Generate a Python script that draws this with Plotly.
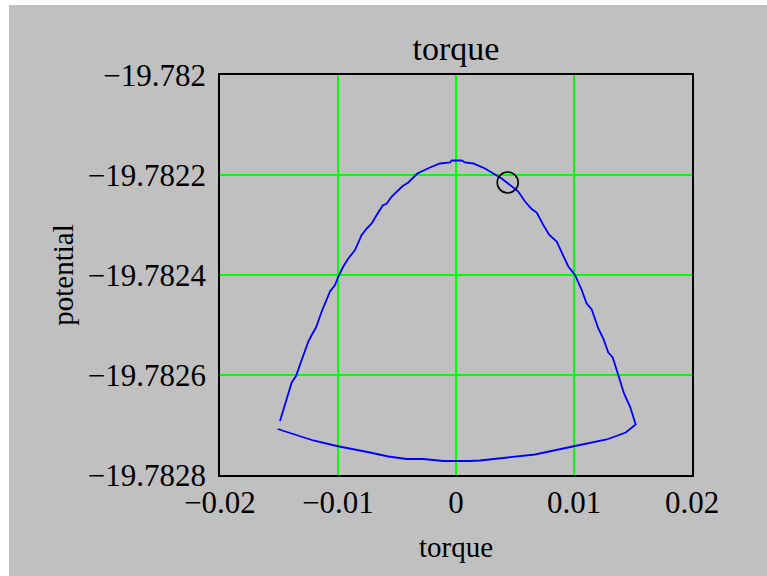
import plotly.graph_objects as go

# Sampled path: over the top from the upper-left end, down the right side,
# then back along the bottom to the left.
torque = [
    -0.014915, -0.014127, -0.013924, -0.013559, -0.013280, -0.012941, -0.012517,
    -0.012229, -0.011864, -0.011381, -0.010958, -0.010678, -0.010254, -0.009975,
    -0.009551, -0.009127, -0.008559, -0.007992, -0.007568, -0.007144, -0.006720,
    -0.006212, -0.005873, -0.005449, -0.004517, -0.004042, -0.003280, -0.002771,
    -0.002203, -0.001356, -0.000508, -0.000364, 0.000483, 0.000763, 0.001466,
    0.002458, 0.003161, 0.003873, 0.005280, 0.005847, 0.006415, 0.006839,
    0.007398, 0.007907, 0.008534, 0.009237, 0.009517, 0.010085, 0.010653,
    0.011076, 0.011500, 0.012059, 0.012483, 0.012907, 0.013280, 0.013754,
    0.014237, 0.014746, 0.015229,
    0.014381, 0.012771, 0.010085, 0.006695, 0.002034, 0.001186, -0.001076,
    -0.002771, -0.004178, -0.005737, -0.007288, -0.010110, -0.012093,
    -0.013788, -0.015110,
]
potential = [
    -19.782692, -19.782633, -19.782615, -19.782602, -19.782583, -19.782563,
    -19.782533, -19.782520, -19.782505, -19.782473, -19.782447, -19.782433,
    -19.782420, -19.782403, -19.782383, -19.782367, -19.782350, -19.782320,
    -19.782307, -19.782297, -19.782280, -19.782261, -19.782257, -19.782243,
    -19.782222, -19.782215, -19.782197, -19.782191, -19.782185, -19.782177,
    -19.782175, -19.782171, -19.782171, -19.782175, -19.782177, -19.782187,
    -19.782197, -19.782207, -19.782233, -19.782253, -19.782268, -19.782275,
    -19.782300, -19.782320, -19.782333, -19.782370, -19.782383, -19.782400,
    -19.782430, -19.782457, -19.782469, -19.782507, -19.782527, -19.782555,
    -19.782565, -19.782600, -19.782637, -19.782663, -19.782699,
    -19.782715, -19.782729, -19.782742, -19.782759, -19.782771, -19.782772,
    -19.782772, -19.782768, -19.782768, -19.782763, -19.782755, -19.782742,
    -19.782731, -19.782718, -19.782708,
]

# Current point
point_torque = [0.004381]
point_potential = [-19.782215]

x_ticks = [-0.02, -0.01, 0.0, 0.01, 0.02]
x_labels = ["\u22120.02", "\u22120.01", "0", "0.01", "0.02"]
y_ticks = [-19.7828, -19.7826, -19.7824, -19.7822, -19.782]
y_labels = ["\u221219.7828", "\u221219.7826", "\u221219.7824", "\u221219.7822", "\u221219.782"]

FONT = "Liberation Serif"
BG = "#c0c0c0"

fig = go.Figure()
fig.add_trace(go.Scatter(
    x=torque, y=potential, mode="lines",
    line=dict(color="#0000ff", width=1.8),
    showlegend=False, hoverinfo="skip",
))
fig.add_trace(go.Scatter(
    x=point_torque, y=point_potential, mode="markers",
    marker=dict(symbol="circle-open", size=21, color="black",
                line=dict(color="black", width=1.6)),
    showlegend=False,
))

axis_common = dict(
    showgrid=True, gridcolor="#00ff00", gridwidth=1.5,
    zeroline=False, showline=True, linecolor="black", linewidth=1.6,
    mirror=True, ticks="", tickmode="array",
    tickfont=dict(family=FONT, size=31, color="black"),
)

fig.update_layout(
    width=767, height=576, autosize=False,
    margin=dict(l=220, r=75, t=75, b=101),
    paper_bgcolor=BG, plot_bgcolor=BG,
    font=dict(family=FONT, color="black", size=30),
    title=dict(text="torque", x=0.5, xref="paper", y=1 - 48 / 576,
               yref="container", xanchor="center", yanchor="middle",
               font=dict(family=FONT, size=34, color="black")),
    xaxis=dict(range=[-0.02, 0.02], tickvals=x_ticks, ticktext=x_labels,
               ticklabelstandoff=-1,
               title=dict(text="torque", standoff=18,
                          font=dict(family=FONT, size=29, color="black")),
               **axis_common),
    yaxis=dict(range=[-19.7828, -19.782], tickvals=y_ticks, ticktext=y_labels,
               ticklabelstandoff=6,
               title=dict(text="potential", standoff=6,
                          font=dict(family=FONT, size=29, color="black")),
               **axis_common),
)

# White strips along the top and left edges of the canvas
plot_w, plot_h = 767 - 220 - 75, 576 - 75 - 101
fig.add_shape(type="rect", xref="paper", yref="paper", layer="above",
              x0=-220 / plot_w, x1=(9 - 220) / plot_w,
              y0=-101 / plot_h, y1=475 / plot_h,
              fillcolor="white", line=dict(width=0))
fig.add_shape(type="rect", xref="paper", yref="paper", layer="above",
              x0=-220 / plot_w, x1=(767 - 220) / plot_w,
              y0=(475 - 5) / plot_h, y1=475 / plot_h,
              fillcolor="white", line=dict(width=0))

fig.write_html("out.html")
